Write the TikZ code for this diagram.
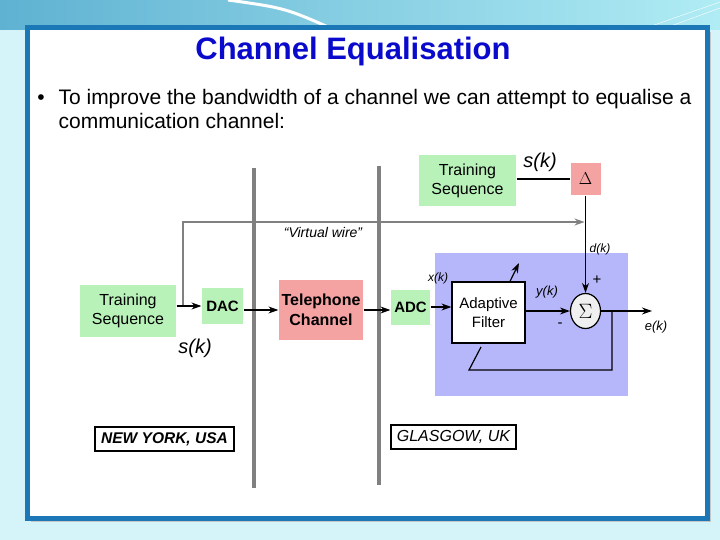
\documentclass[tikz,border=0pt]{standalone}
\usepackage{fontspec}
\setmainfont{Liberation Sans}
\usetikzlibrary{arrows.meta,shapes.geometric}

\definecolor{bgcyan}{HTML}{D4F4F9}
\definecolor{topteal}{HTML}{5FB2D2}
\definecolor{toplight}{HTML}{B0ECF4}
\definecolor{frameblue}{HTML}{1B77B6}
\definecolor{titleblue}{HTML}{0A0ACC}
\definecolor{trgreen}{HTML}{B8F2B8}
\definecolor{trpink}{HTML}{F4A2A2}
\definecolor{panelblue}{HTML}{B6B6FA}
\definecolor{wiregray}{HTML}{808080}

\tikzset{
  greenbox/.style={fill=trgreen,inner sep=0pt,align=center},
  pinkbox/.style={fill=trpink,inner sep=0pt,align=center},
  sitebox/.style={draw=black,line width=2pt,fill=white,inner sep=0pt,
    font=\fontsize{16}{18}\selectfont\itshape},
  lbl/.style={font=\fontsize{13}{15}\selectfont\itshape,inner sep=0pt},
  biglbl/.style={font=\fontsize{20}{22}\selectfont\itshape,inner sep=0pt},
  wall/.style={wiregray,line width=4pt},
  wire/.style={wiregray,line width=1.6pt}
}

\begin{document}
\begin{tikzpicture}[x=1pt,y=-1pt,>={Stealth[length=10pt,width=7pt]},line width=1.2pt]
  \useasboundingbox (0,0) rectangle (720,540);

  % slide background
  \fill[bgcyan] (0,0) rectangle (720,540);
  \shade[left color=topteal,right color=toplight] (0,0) rectangle (720,30);
  \draw[white,line width=3pt] (228,0) .. controls (285,8) .. (335,30);
  \draw[white,thin] (640,30) -- (720,2);
  \draw[white,thin] (660,30) -- (720,8);
  \fill[gray!45] (31,32) rectangle (711,522);
  \draw[frameblue,line width=5pt,fill=white] (27.5,28) rectangle (707.5,518);

  % heading and bullet
  \node[font=\fontsize{31}{34}\selectfont\bfseries,text=titleblue] (title) at (353,51) {Channel Equalisation};
  \node[font=\fontsize{21}{24}\selectfont,anchor=base] (bul) at (41,105) {\textbullet};
  \node[font=\fontsize{21}{24}\selectfont,anchor=base west,inner sep=0pt] (txtA) at (58,105)
    {To improve the bandwidth of a channel we can attempt to equalise a};
  \node[font=\fontsize{21}{24}\selectfont,anchor=base west,inner sep=0pt] (txtB) at (58,129)
    {communication channel:};

  % receiver panel and the two walls
  \fill[panelblue] (435,253) rectangle (628,396);
  \draw[wall] (254,168) -- (254,488);
  \draw[wall] (379,166) -- (379,485);

  % blocks
  \node[greenbox,minimum width=96pt,minimum height=52pt,font=\fontsize{16}{19}\selectfont]
    (trainL) at (128,311) {Training\\Sequence};
  \node[greenbox,minimum width=41pt,minimum height=36pt,font=\fontsize{15}{18}\selectfont\bfseries]
    (dac) at (222.5,306) {DAC};
  \node[pinkbox,minimum width=84pt,minimum height=60pt,font=\fontsize{16}{20}\selectfont\bfseries]
    (tel) at (321,310) {Telephone\\Channel};
  \node[greenbox,minimum width=39pt,minimum height=35pt,font=\fontsize{15}{18}\selectfont\bfseries]
    (adc) at (410.5,307) {ADC};
  \node[draw=black,fill=white,line width=1.2pt,minimum width=73pt,minimum height=61pt,
    align=center,font=\fontsize{15}{19}\selectfont] (filt) at (488.5,312.5) {Adaptive\\Filter};
  \node[ellipse,draw=black,fill=white!94!black,line width=1.2pt,minimum width=30pt,
    minimum height=35pt,inner sep=0pt,font=\fontsize{21}{22}\selectfont] (sum) at (585.5,311) {$\Sigma$};
  \node[greenbox,minimum width=97pt,minimum height=51pt,font=\fontsize{16}{19}\selectfont]
    (trainT) at (467.5,180.5) {Training\\Sequence};
  \node[pinkbox,minimum width=30pt,minimum height=32pt,font=\fontsize{17}{19}\selectfont]
    (delta) at (585.5,179) {$\Delta$};
  \node[sitebox,minimum width=139pt,minimum height=24pt,font=\fontsize{15.5}{18}\selectfont\bfseries\itshape]
    (ny) at (164.5,439) {NEW YORK, USA};
  \node[sitebox,minimum width=125pt,minimum height=24pt] (gla) at (453.5,437) {GLASGOW, UK};

  % virtual wire
  \coordinate (vw) at (183,222);
  \draw[wire,->] (vw |- dac.west) -- (vw) -- ([xshift=-1pt]delta.south |- vw);
  \node[lbl,font=\fontsize{14}{16}\selectfont\itshape] (vwl) at (323,232) {“Virtual wire”};

  % signal path
  \draw[->] (trainL.east |- dac.west) -- (dac.west);
  \draw[->] (dac.east |- tel.west) -- (tel.west);
  \draw[->] (tel.east) -- (adc.west |- tel.east);
  \draw[->] (adc.east) -- (filt.west |- adc.east);
  \draw[->] (filt.east |- sum.west) -- (sum.west);
  \draw[->] (delta.south) -- (sum.north);
  \draw (trainT.east |- delta.west) -- (delta.west);

  % error output and feedback
  \coordinate (eout) at (652,311);
  \coordinate (fbr) at (612,370);
  \coordinate (fbl) at (469,370);
  \coordinate (fbt) at (481,347);
  \coordinate (adapt) at (519,263);
  \draw[->] (sum.east) -- (eout);
  \draw (sum.east -| fbr) -- (fbr) -- (fbl) -- (fbt);
  \draw[->] ([xshift=21.5pt]filt.north) -- (adapt);

  % signal names
  \node[biglbl] (skT) at (540,162) {s(k)};
  \node[biglbl] (skL) at (195,348) {s(k)};
  \node[lbl,font=\fontsize{12}{14}\selectfont\itshape] (xk) at (438,278) {x(k)};
  \node[lbl] (yk) at (547,292) {y(k)};
  \node[lbl,font=\fontsize{12}{14}\selectfont\itshape] (dk) at (600,249) {d(k)};
  \node[lbl,font=\fontsize{15}{16}\selectfont] (plus) at (597,280) {+};
  \node[lbl,font=\fontsize{15}{16}\selectfont] (minus) at (560,325) {-};
  \node[lbl] (ek) at (656,327) {e(k)};
\end{tikzpicture}
\end{document}
